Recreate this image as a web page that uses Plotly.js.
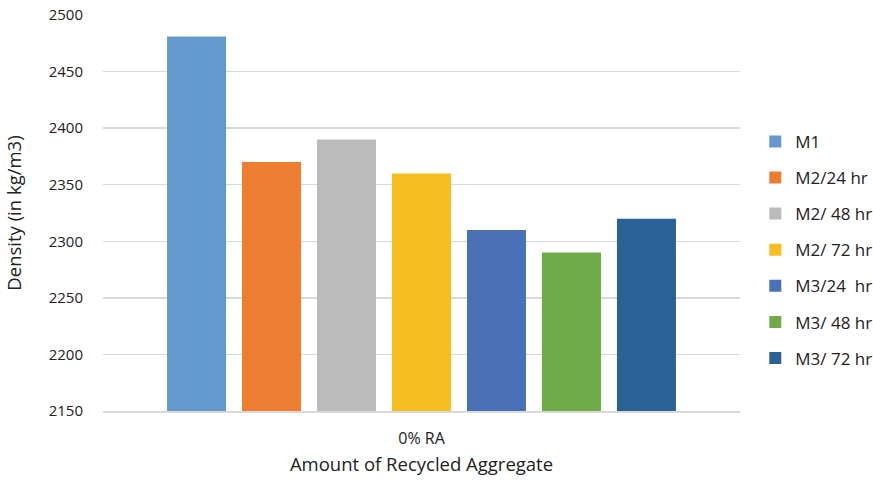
<!DOCTYPE html>
<html>
<head>
<meta charset="utf-8">
<script src="https://cdn.plot.ly/plotly-3.0.1.min.js"></script>
<style>
  html, body { margin: 0; padding: 0; background: #fff; }
  #chart { width: 873px; height: 482px; }
</style>
</head>
<body>
<div id="chart"></div>
<script>
// Density of mixes at 0% recycled aggregate
const categories = ["0% RA"];
const seriesNames = ["M1", "M2/24 hr", "M2/ 48 hr", "M2/ 72 hr", "M3/24  hr", "M3/ 48 hr", "M3/ 72 hr"];
const densityValues = [2481, 2370, 2390, 2360, 2310, 2290, 2320];
const seriesColors = ["#6399CD", "#ED7D31", "#BABBBA", "#F8BE20", "#4A70B8", "#6FAC47", "#2A6298"];

const traces = seriesNames.map((name, i) => ({
  type: "bar",
  name: name,
  x: categories,
  y: [densityValues[i]],
  marker: { color: seriesColors[i] },
  legendgroup: "g" + i,
  hoverinfo: "name+y"
}));

const font = "Open Sans, Liberation Sans, Arial, sans-serif";

const layout = {
  width: 873,
  height: 482,
  margin: { l: 103, r: 133, t: 15, b: 71, autoexpand: false },
  paper_bgcolor: "#ffffff",
  plot_bgcolor: "#ffffff",
  barmode: "group",
  bargap: 0.176,
  bargroupgap: 0.213,
  font: { family: font, color: "#222222", size: 15 },
  xaxis: {
    type: "category",
    showgrid: false,
    showline: true,
    linecolor: "#D9D9D9",
    linewidth: 1.5,
    ticks: "",
    tickfont: { size: 16, color: "#222222" },
    ticklabelstandoff: 12,
    title: { text: "Amount of Recycled Aggregate", font: { size: 18.5, color: "#222222" }, standoff: 10 }
  },
  yaxis: {
    range: [2150, 2500],
    dtick: 50,
    showgrid: true,
    gridcolor: "#D9D9D9",
    gridwidth: 1.5,
    zeroline: false,
    showline: false,
    ticks: "",
    tickfont: { size: 15, color: "#222222" },
    ticklabelstandoff: 19,
    title: { text: "Density (in kg/m3)", font: { size: 18.5, color: "#222222" }, standoff: 22 }
  },
  legend: {
    x: 1.024,
    xanchor: "left",
    y: 0.407,
    yanchor: "middle",
    traceorder: "grouped",
    tracegroupgap: 11,
    font: { size: 17, color: "#222222" },
    itemwidth: 30
  },
  showlegend: true
};

Plotly.newPlot("chart", traces, layout, { displayModeBar: false, staticPlot: true });
</script>
</body>
</html>
